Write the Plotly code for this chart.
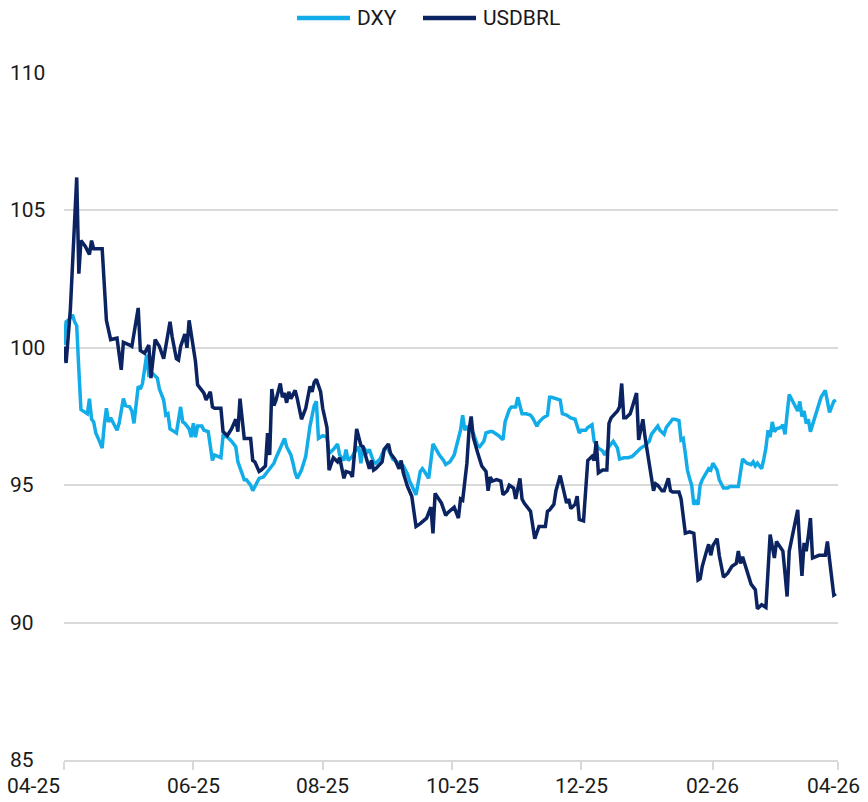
import plotly.graph_objects as go

# DXY, rebased
dxy_dates = [
    "2025-04-01", "2025-04-02", "2025-04-03", "2025-04-05", "2025-04-06", "2025-04-07", "2025-04-08", "2025-04-09",
    "2025-04-11", "2025-04-12", "2025-04-13", "2025-04-14", "2025-04-15", "2025-04-16", "2025-04-18", "2025-04-19",
    "2025-04-20", "2025-04-21", "2025-04-22", "2025-04-23", "2025-04-24", "2025-04-26", "2025-04-27", "2025-04-29",
    "2025-04-30", "2025-05-02", "2025-05-03", "2025-05-04", "2025-05-06", "2025-05-07", "2025-05-08", "2025-05-09",
    "2025-05-10", "2025-05-11", "2025-05-13", "2025-05-15", "2025-05-16", "2025-05-18", "2025-05-19", "2025-05-20",
    "2025-05-21", "2025-05-23", "2025-05-24", "2025-05-26", "2025-05-27", "2025-05-28", "2025-05-30", "2025-05-31",
    "2025-06-01", "2025-06-02", "2025-06-03", "2025-06-05", "2025-06-06", "2025-06-08", "2025-06-10", "2025-06-11",
    "2025-06-13", "2025-06-14", "2025-06-15", "2025-06-17", "2025-06-19", "2025-06-21", "2025-06-22", "2025-06-24",
    "2025-06-25", "2025-06-26", "2025-06-28", "2025-06-29", "2025-07-01", "2025-07-02", "2025-07-04", "2025-07-06",
    "2025-07-07", "2025-07-09", "2025-07-10", "2025-07-12", "2025-07-13", "2025-07-14", "2025-07-15", "2025-07-17",
    "2025-07-18", "2025-07-19", "2025-07-20", "2025-07-22", "2025-07-24", "2025-07-25", "2025-07-26", "2025-07-28",
    "2025-07-29", "2025-07-30", "2025-07-31", "2025-08-01", "2025-08-03", "2025-08-04", "2025-08-06", "2025-08-08",
    "2025-08-09", "2025-08-11", "2025-08-12", "2025-08-13", "2025-08-15", "2025-08-16", "2025-08-18", "2025-08-19",
    "2025-08-20", "2025-08-22", "2025-08-23", "2025-08-25", "2025-08-26", "2025-08-28", "2025-08-30", "2025-08-31",
    "2025-09-02", "2025-09-03", "2025-09-05", "2025-09-06", "2025-09-08", "2025-09-10", "2025-09-11", "2025-09-13",
    "2025-09-14", "2025-09-16", "2025-09-17", "2025-09-18", "2025-09-20", "2025-09-22", "2025-09-25", "2025-09-27",
    "2025-09-28", "2025-09-30", "2025-10-02", "2025-10-04", "2025-10-05", "2025-10-06", "2025-10-07", "2025-10-08",
    "2025-10-09", "2025-10-10", "2025-10-11", "2025-10-13", "2025-10-14", "2025-10-16", "2025-10-17", "2025-10-19",
    "2025-10-20", "2025-10-23", "2025-10-25", "2025-10-26", "2025-10-28", "2025-10-29", "2025-10-31", "2025-11-01",
    "2025-11-02", "2025-11-03", "2025-11-05", "2025-11-07", "2025-11-08", "2025-11-10", "2025-11-11", "2025-11-13",
    "2025-11-15", "2025-11-16", "2025-11-17", "2025-11-19", "2025-11-21", "2025-11-22", "2025-11-24", "2025-11-26",
    "2025-11-28", "2025-11-30", "2025-12-01", "2025-12-03", "2025-12-04", "2025-12-06", "2025-12-07", "2025-12-09",
    "2025-12-11", "2025-12-12", "2025-12-14", "2025-12-16", "2025-12-18", "2025-12-19", "2025-12-21", "2025-12-23",
    "2025-12-25", "2025-12-27", "2025-12-29", "2025-12-31", "2026-01-02", "2026-01-03", "2026-01-06", "2026-01-07",
    "2026-01-09", "2026-01-10", "2026-01-11", "2026-01-13", "2026-01-14", "2026-01-16", "2026-01-17", "2026-01-18",
    "2026-01-19", "2026-01-20", "2026-01-21", "2026-01-22", "2026-01-23", "2026-01-24", "2026-01-25", "2026-01-26",
    "2026-01-27", "2026-01-29", "2026-01-30", "2026-01-31", "2026-02-01", "2026-02-03", "2026-02-04", "2026-02-06",
    "2026-02-08", "2026-02-09", "2026-02-11", "2026-02-13", "2026-02-14", "2026-02-15", "2026-02-17", "2026-02-19",
    "2026-02-20", "2026-02-21", "2026-02-22", "2026-02-24", "2026-02-25", "2026-02-26", "2026-02-27", "2026-02-28",
    "2026-03-01", "2026-03-02", "2026-03-03", "2026-03-05", "2026-03-06", "2026-03-07", "2026-03-08", "2026-03-09",
    "2026-03-11", "2026-03-13", "2026-03-14", "2026-03-15", "2026-03-16", "2026-03-17", "2026-03-18", "2026-03-19",
    "2026-03-21", "2026-03-23", "2026-03-24", "2026-03-26", "2026-03-28", "2026-03-30", "2026-03-31",
]
dxy = [
    100.1, 100.95, 101.0, 101.2, 100.95, 100.8, 99.2, 97.75,
    97.65, 97.6, 98.15, 97.4, 97.3, 96.9, 96.55, 96.35,
    97.2, 97.8, 97.3, 97.45, 97.3, 97.0, 97.25, 98.15,
    97.9, 97.85, 97.7, 97.25, 98.6, 98.5, 98.7, 99.3,
    99.75, 99.0, 99.05, 98.9, 98.5, 98.1, 97.55, 97.6,
    97.05, 96.95, 96.9, 97.85, 97.3, 97.25, 97.05, 96.75,
    97.25, 96.75, 97.15, 97.15, 97.0, 96.95, 95.9, 96.1,
    96.05, 96.0, 96.8, 96.75, 96.6, 96.4, 95.85, 95.35,
    95.2, 95.2, 95.0, 94.8, 95.1, 95.25, 95.3, 95.5,
    95.55, 95.8, 96.0, 96.35, 96.45, 96.7, 96.4, 96.1,
    95.8, 95.45, 95.25, 95.55, 96.05, 96.65, 97.15, 97.9,
    98.05, 96.7, 96.75, 96.8, 96.75, 96.15, 96.3, 96.5,
    96.1, 95.9, 96.3, 95.9, 96.05, 96.2, 96.4, 95.8,
    96.4, 96.2, 96.3, 95.85, 95.8, 95.95, 96.3, 96.4,
    96.15, 95.95, 95.85, 95.75, 95.7, 95.4, 95.15, 94.85,
    94.65, 95.5, 95.6, 95.5, 95.25, 96.5, 96.1, 95.9,
    95.75, 95.85, 96.1, 96.7, 97.0, 97.55, 97.0, 97.15,
    97.0, 97.0, 96.9, 96.45, 96.4, 96.6, 96.9, 96.95,
    96.95, 96.8, 96.65, 97.3, 97.75, 97.85, 97.85, 98.2,
    97.85, 97.6, 97.6, 97.55, 97.45, 97.15, 97.3, 97.45,
    97.55, 98.2, 98.2, 98.15, 98.1, 97.6, 97.55, 97.45,
    97.4, 96.9, 97.0, 97.0, 97.1, 97.2, 96.6, 96.35,
    96.25, 96.1, 96.4, 96.6, 96.35, 95.95, 96.0, 96.0,
    96.05, 96.2, 96.35, 96.45, 96.6, 96.85, 97.15, 97.0,
    96.85, 97.1, 97.2, 97.4, 97.4, 97.35, 96.65, 96.7,
    96.15, 95.55, 95.25, 95.0, 94.3, 94.4, 94.3, 95.0,
    95.2, 95.45, 95.6, 95.55, 95.8, 95.55, 95.2, 94.9,
    94.9, 94.95, 94.95, 94.95, 95.45, 95.95, 95.8, 95.75,
    95.85, 95.7, 95.8, 95.6, 95.95, 96.35, 97.0, 96.75,
    97.3, 96.95, 97.05, 97.1, 97.2, 96.85, 97.6, 98.3,
    98.0, 97.7, 98.05, 97.5, 97.7, 97.25, 97.4, 96.95,
    97.45, 97.9, 98.2, 98.45, 97.65, 98.05, 98.1,
]

# USDBRL, rebased
brl_dates = [
    "2025-04-01", "2025-04-02", "2025-04-04", "2025-04-05", "2025-04-07", "2025-04-08", "2025-04-09", "2025-04-11",
    "2025-04-13", "2025-04-14", "2025-04-15", "2025-04-19", "2025-04-21", "2025-04-23", "2025-04-25", "2025-04-26",
    "2025-04-28", "2025-04-29", "2025-05-02", "2025-05-03", "2025-05-06", "2025-05-07", "2025-05-09", "2025-05-11",
    "2025-05-12", "2025-05-14", "2025-05-16", "2025-05-18", "2025-05-19", "2025-05-21", "2025-05-22", "2025-05-24",
    "2025-05-25", "2025-05-26", "2025-05-28", "2025-05-29", "2025-05-30", "2025-06-02", "2025-06-03", "2025-06-06",
    "2025-06-07", "2025-06-09", "2025-06-10", "2025-06-11", "2025-06-14", "2025-06-15", "2025-06-17", "2025-06-19",
    "2025-06-21", "2025-06-22", "2025-06-23", "2025-06-25", "2025-06-28", "2025-06-29", "2025-06-30", "2025-07-02",
    "2025-07-03", "2025-07-05", "2025-07-06", "2025-07-07", "2025-07-08", "2025-07-09", "2025-07-10", "2025-07-12",
    "2025-07-13", "2025-07-14", "2025-07-15", "2025-07-16", "2025-07-17", "2025-07-19", "2025-07-20", "2025-07-22",
    "2025-07-24", "2025-07-26", "2025-07-27", "2025-07-28", "2025-07-29", "2025-07-31", "2025-08-01", "2025-08-03",
    "2025-08-04", "2025-08-06", "2025-08-08", "2025-08-09", "2025-08-11", "2025-08-12", "2025-08-14", "2025-08-15",
    "2025-08-17", "2025-08-19", "2025-08-20", "2025-08-23", "2025-08-24", "2025-08-25", "2025-08-26", "2025-08-29",
    "2025-08-30", "2025-09-01", "2025-09-02", "2025-09-04", "2025-09-06", "2025-09-07", "2025-09-08", "2025-09-10",
    "2025-09-12", "2025-09-13", "2025-09-14", "2025-09-16", "2025-09-19", "2025-09-21", "2025-09-22", "2025-09-23",
    "2025-09-25", "2025-09-26", "2025-09-28", "2025-09-29", "2025-10-02", "2025-10-04", "2025-10-05", "2025-10-06",
    "2025-10-08", "2025-10-09", "2025-10-10", "2025-10-11", "2025-10-13", "2025-10-14", "2025-10-15", "2025-10-17",
    "2025-10-18", "2025-10-19", "2025-10-20", "2025-10-22", "2025-10-24", "2025-10-25", "2025-10-27", "2025-10-28",
    "2025-10-30", "2025-10-31", "2025-11-02", "2025-11-03", "2025-11-04", "2025-11-07", "2025-11-08", "2025-11-09",
    "2025-11-11", "2025-11-14", "2025-11-15", "2025-11-16", "2025-11-18", "2025-11-19", "2025-11-21", "2025-11-22",
    "2025-11-24", "2025-11-25", "2025-11-26", "2025-11-28", "2025-11-29", "2025-11-30", "2025-12-02", "2025-12-04",
    "2025-12-06", "2025-12-07", "2025-12-08", "2025-12-09", "2025-12-11", "2025-12-13", "2025-12-14", "2025-12-15",
    "2025-12-18", "2025-12-19", "2025-12-20", "2025-12-21", "2025-12-22", "2025-12-24", "2025-12-25", "2025-12-27",
    "2025-12-28", "2025-12-29", "2025-12-30", "2025-12-31", "2026-01-01", "2026-01-02", "2026-01-03", "2026-01-04",
    "2026-01-05", "2026-01-06", "2026-01-08", "2026-01-09", "2026-01-11", "2026-01-12", "2026-01-13", "2026-01-16",
    "2026-01-17", "2026-01-18", "2026-01-19", "2026-01-21", "2026-01-23", "2026-01-24", "2026-01-25", "2026-01-26",
    "2026-01-27", "2026-01-29", "2026-01-30", "2026-01-31", "2026-02-01", "2026-02-03", "2026-02-04", "2026-02-06",
    "2026-02-08", "2026-02-10", "2026-02-12", "2026-02-13", "2026-02-14", "2026-02-15", "2026-02-17", "2026-02-19",
    "2026-02-21", "2026-02-22", "2026-02-24", "2026-02-26", "2026-02-28", "2026-03-02", "2026-03-03", "2026-03-05",
    "2026-03-06", "2026-03-07", "2026-03-08", "2026-03-09", "2026-03-11", "2026-03-13", "2026-03-14", "2026-03-15",
    "2026-03-16", "2026-03-17", "2026-03-18", "2026-03-19", "2026-03-20", "2026-03-23", "2026-03-26", "2026-03-27",
    "2026-03-29", "2026-03-30", "2026-03-31",
]
brl = [
    100.05, 99.45, 101.4, 103.2, 106.2, 102.7, 103.9, 103.7,
    103.4, 103.9, 103.6, 103.6, 101.0, 100.3, 100.35, 100.35,
    99.2, 100.2, 100.1, 100.05, 101.45, 99.9, 99.8, 100.1,
    98.9, 100.3, 100.05, 99.6, 100.05, 100.95, 100.4, 99.6,
    99.55, 100.05, 100.5, 100.0, 101.0, 99.5, 98.65, 98.35,
    98.1, 98.4, 97.85, 97.8, 97.8, 96.95, 96.8, 97.05,
    97.4, 96.95, 98.15, 96.7, 96.7, 95.9, 95.85, 95.5,
    95.55, 95.7, 96.9, 96.1, 98.5, 97.9, 98.1, 98.7,
    98.2, 98.35, 98.0, 98.4, 98.15, 98.45, 98.15, 97.4,
    97.8, 98.6, 98.4, 98.75, 98.85, 98.4, 97.8, 97.1,
    95.55, 96.0, 95.85, 96.0, 95.25, 95.5, 95.45, 95.3,
    97.05, 96.45, 96.4, 95.6, 95.9, 95.55, 95.6, 95.85,
    96.3, 96.5, 96.15, 95.95, 95.6, 95.9, 95.45, 94.95,
    94.6, 94.05, 93.5, 93.6, 93.8, 94.2, 93.25, 94.7,
    94.5, 94.35, 93.9, 94.0, 94.2, 93.8, 94.5, 94.45,
    95.8, 97.0, 97.5, 96.75, 96.2, 95.95, 95.7, 95.5,
    94.8, 95.3, 95.15, 95.2, 95.15, 94.65, 94.8, 95.0,
    94.9, 94.5, 95.25, 94.5, 94.35, 94.05, 93.5, 93.05,
    93.5, 93.5, 94.05, 94.1, 94.3, 94.8, 95.35, 95.0,
    94.35, 94.5, 94.15, 94.3, 94.6, 93.75, 93.7, 95.9,
    96.05, 95.9, 96.6, 95.45, 95.55, 95.55, 97.25, 97.45,
    97.7, 97.85, 98.7, 97.45, 97.45, 97.6, 97.85, 98.35,
    96.65, 97.0, 97.4, 96.75, 96.3, 95.7, 95.35, 94.8,
    95.05, 95.0, 94.8, 94.8, 95.25, 94.8, 94.75, 94.75,
    94.5, 93.75, 93.25, 93.3, 93.25, 92.4, 91.55, 91.6,
    92.05, 92.6, 92.85, 92.45, 92.8, 93.05, 92.45, 91.65,
    91.8, 92.05, 92.15, 92.6, 92.15, 92.4, 91.85, 91.4,
    91.2, 90.5, 90.65, 90.55, 93.2, 92.35, 92.95, 92.75,
    92.6, 91.8, 90.95, 92.6, 93.35, 94.1, 92.75, 91.7,
    92.9, 92.6, 93.15, 93.8, 92.35, 92.45, 92.45, 92.95,
    91.65, 91.0, 91.05,
]

y_ticks = [85, 90, 95, 100, 105, 110]
x_ticks = ["2025-04-01", "2025-06-01", "2025-08-01", "2025-10-01", "2025-12-01", "2026-02-01", "2026-04-01"]
x_labels = ["04-25", "06-25", "08-25", "10-25", "12-25", "02-26", "04-26"]

series_names = ["DXY", "USDBRL"]
series_colors = ["#12ADE8", "#0B2361"]

FONT = "Roboto"
GRID = "#d9d9d9"
TEXT = "#1a1a1a"
FS = 21

fig = go.Figure()
fig.add_trace(go.Scatter(x=dxy_dates, y=dxy, name=series_names[0], mode="lines",
                         line=dict(color=series_colors[0], width=3.5)))
fig.add_trace(go.Scatter(x=brl_dates, y=brl, name=series_names[1], mode="lines",
                         line=dict(color=series_colors[1], width=3.5)))

# y labels sit flush left, like the source
for v in y_ticks:
    fig.add_annotation(x=-0.072, xref="paper", y=v, yref="y", text=str(v),
                       showarrow=False, xanchor="left", yanchor="middle",
                       font=dict(family=FONT, size=FS, color=TEXT))

# x labels, first and last pulled inside the frame
for i, (d, lab) in enumerate(zip(x_ticks, x_labels)):
    anchor, shift = "center", 0
    if i == 0:
        anchor, shift = "right", -2
    elif i == len(x_ticks) - 1:
        anchor, shift = "right", 24
    fig.add_annotation(x=d, xref="x", y=0, yref="paper", yshift=-12, text=lab,
                       showarrow=False, xanchor=anchor, yanchor="top", xshift=shift,
                       font=dict(family=FONT, size=FS, color=TEXT))

# legend drawn by hand so the swatches are as long as the source's
leg_x = [0.301, 0.4638]
for name, col, lx in zip(series_names, series_colors, leg_x):
    fig.add_shape(type="line", xref="paper", yref="paper", x0=lx, x1=lx + 0.0685,
                  y0=1.08, y1=1.08, line=dict(color=col, width=4.5))
    fig.add_annotation(x=lx + 0.075, xref="paper", y=1.08, yref="paper", text=name,
                       showarrow=False, xanchor="left", yanchor="middle",
                       font=dict(family=FONT, size=FS, color=TEXT))

fig.update_layout(
    width=868, height=802,
    margin=dict(l=64, r=30, t=73, b=42, autoexpand=False),
    plot_bgcolor="white", paper_bgcolor="white",
    font=dict(family=FONT, size=FS, color=TEXT),
    showlegend=False,
)
fig.update_xaxes(
    type="date", range=["2025-04-01", "2026-04-01"],
    tickvals=x_ticks, showticklabels=False,
    showgrid=False, showline=True, linecolor=GRID, linewidth=2,
    ticks="outside", ticklen=8, tickwidth=2, tickcolor=GRID,
)
fig.update_yaxes(
    range=[85, 110], tickvals=y_ticks, showticklabels=False,
    showgrid=True, gridcolor=GRID, gridwidth=2, zeroline=False, ticks="",
)

fig.write_html("out.html", config={"displayModeBar": False},
               post_script="document.body.style.margin='0';")
